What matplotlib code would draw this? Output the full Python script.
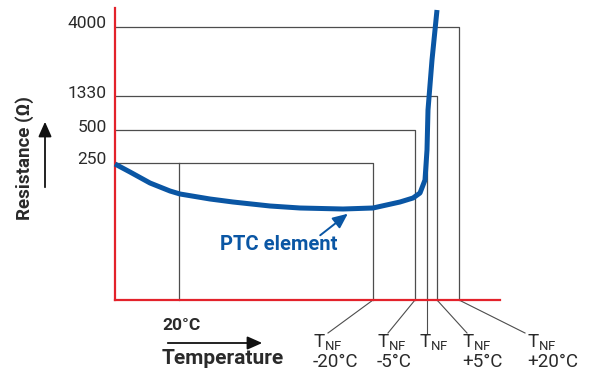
import matplotlib.pyplot as plt
from matplotlib.patches import FancyArrowPatch

# everything in pixel units (x right, y down)
levels = ["4000", "1330", "500", "250"]
level_y = [27, 96, 130, 163]
level_x = [459, 437, 415, 373]          # right edge of each box

curve_x = [115, 130, 150, 170, 180, 210, 233, 270, 300, 343, 373, 400, 413, 420, 425, 427, 428, 430, 432, 435, 437]
curve_y = [164, 172, 183, 191, 194, 199, 202, 206, 208, 209, 208, 202, 198, 193, 180, 150, 110, 85, 60, 30, 10]

tnf_names = ["-20°C", "-5°C", "", "+5°C", "+20°C"]
tnf_foot = [373, 415, 427, 437, 459]     # where leader meets the axis
tnf_left = [313, 377, 419, 462, 527]
tnf_end = [(328, 333), (388, 333), (427, 334), (467, 333), (525, 333)]

x20 = 179
x_tnf = 427
y_tnf_top = 118

blue = "#0a56a4"
red = "#e3222b"
grey = "#4d4d4d"
ink = "#2a2a2a"

fig = plt.figure(figsize=(5.9, 3.72), dpi=100)
ax = fig.add_axes([0, 0, 1, 1])
ax.set_xlim(0, 590)
ax.set_ylim(372, 0)
ax.axis("off")

plt.rcParams["font.family"] = ["Roboto", "DejaVu Sans"]
plt.rcParams["mathtext.fontset"] = "custom"
plt.rcParams["mathtext.rm"] = "Roboto"

# grey boxes
for lx, ly in zip(level_x, level_y):
    ax.plot([115, lx, lx], [ly, ly, 300], color=grey, lw=0.9, zorder=1)
ax.plot([x20, x20], [level_y[3], 300], color=grey, lw=0.9, zorder=1)
ax.plot([x_tnf, x_tnf], [y_tnf_top, 300], color=grey, lw=0.9, zorder=1)

# leaders to the TNF labels
for fx, (ex, ey) in zip(tnf_foot, tnf_end):
    ax.plot([fx, ex], [300, ey], color=grey, lw=0.8, zorder=1)

# axes in red
ax.plot([115, 115], [8, 300], color=red, lw=1.6, zorder=2)
ax.plot([115, 500], [300, 300], color=red, lw=1.6, zorder=2)

# curve
ax.plot(curve_x, curve_y, color=blue, lw=3.6, solid_capstyle="butt", zorder=3)

# level labels
for name, ly in zip(levels, level_y):
    ax.text(107, ly - 3, name, ha="right", va="center", fontsize=12.5, color=ink)

# TNF labels, one text each: T with small NF, value below
for name, tx in zip(tnf_names, tnf_left):
    label = r"T$_{\mathregular{NF}}$"
    if name:
        label += "\n" + name
    ax.text(tx, 333, label, ha="left", va="top", fontsize=13.5, color=ink,
            linespacing=0.95, multialignment="left")

# y label and arrow
ax.text(25, 158, "Resistance (Ω)", rotation=90, ha="center", va="center",
        fontsize=13.5, fontweight="bold", color=ink)
ax.add_patch(FancyArrowPatch((45, 190), (45, 119), arrowstyle="-|>,head_length=9,head_width=4",
                             color="#111111", lw=1.3, mutation_scale=1))

# x labels and arrow
ax.text(162, 325, "20°C", ha="left", va="center", fontsize=12.5, fontweight="bold", color=ink)
ax.add_patch(FancyArrowPatch((165, 343), (265, 343), arrowstyle="-|>,head_length=9,head_width=4",
                             color="#111111", lw=1.3, mutation_scale=1))
ax.text(162, 358, "Temperature", ha="left", va="center", fontsize=15, fontweight="bold", color=ink)

# PTC element
ax.text(279, 245, "PTC element", ha="center", va="center", fontsize=14.5, fontweight="bold", color=blue)
ax.add_patch(FancyArrowPatch((318, 237), (350, 212), arrowstyle="-|>,head_length=9,head_width=4",
                             color=blue, lw=1.4, mutation_scale=1))

fig.savefig("out.png", dpi=100)
